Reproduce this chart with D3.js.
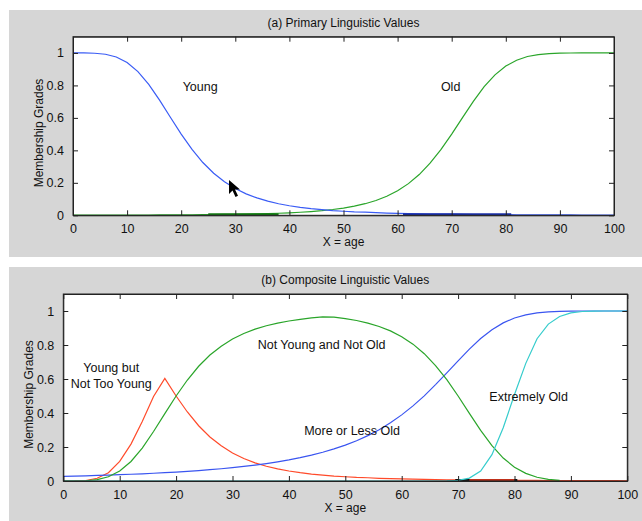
<!DOCTYPE html>
<html>
<head>
<meta charset="utf-8">
<script src="https://cdn.jsdelivr.net/npm/d3@7"></script>
<style>
  body { margin: 0; background: #fff; }
  text { font-family: "Liberation Sans", Arial, sans-serif; fill: #111; }
  .axis path, .axis line { stroke: #222; }
  .axis text { font-size: 12.5px; fill: #111; }
</style>
</head>
<body>
<div id="chart"></div>
<script>
// x grid used for every curve (age)
var ages = d3.range(0, 101, 2);

// (a) primary values
var young = [1, 0.9999, 0.998, 0.992, 0.975, 0.941, 0.885, 0.806, 0.709, 0.604,
  0.5, 0.406, 0.325, 0.259, 0.207, 0.165, 0.132, 0.107, 0.087, 0.071,
  0.059, 0.049, 0.041, 0.035, 0.029, 0.025, 0.021, 0.019, 0.016, 0.014,
  0.012, 0.011, 0.009, 0.008, 0.007, 0.007, 0.006, 0.005, 0.005, 0.004,
  0.004, 0.0035, 0.0032, 0.0029, 0.0026, 0.0024, 0.0022, 0.002, 0.0019, 0.0017, 0.0016];
var old = [0.0007, 0.0008, 0.0009, 0.001, 0.0012, 0.0014, 0.0016, 0.0018, 0.0021, 0.0024,
  0.0028, 0.0032, 0.0038, 0.0044, 0.0052, 0.0062, 0.0073, 0.0087, 0.0105, 0.0127,
  0.0154, 0.0188, 0.0231, 0.0286, 0.0356, 0.0446, 0.0563, 0.0714, 0.0913, 0.117,
  0.151, 0.195, 0.251, 0.321, 0.404, 0.5, 0.602, 0.702, 0.792, 0.865,
  0.919, 0.955, 0.978, 0.99, 0.996, 0.9986, 0.9996, 1, 1, 1, 1];

// (b) composite values
var butNotTooYoung = [0, 0.0002, 0.003, 0.016, 0.049, 0.115, 0.217, 0.35, 0.497, 0.604,
  0.5, 0.406, 0.325, 0.259, 0.207, 0.165, 0.132, 0.107, 0.087, 0.071,
  0.059, 0.049, 0.041, 0.035, 0.029, 0.025, 0.021, 0.019, 0.016, 0.014,
  0.012, 0.011, 0.009, 0.008, 0.007, 0.007, 0.006, 0.005, 0.005, 0.004,
  0.004, 0.0035, 0.0032, 0.0029, 0.0026, 0.0024, 0.0022, 0.002, 0.0019, 0.0017, 0.0016];
var notYoungNotOld = [0, 0.0001, 0.0016, 0.008, 0.025, 0.059, 0.115, 0.194, 0.291, 0.396,
  0.5, 0.594, 0.675, 0.741, 0.793, 0.835, 0.868, 0.893, 0.913, 0.929,
  0.941, 0.951, 0.959, 0.9655, 0.964, 0.955, 0.944, 0.929, 0.909, 0.883,
  0.849, 0.805, 0.749, 0.679, 0.596, 0.5, 0.398, 0.298, 0.208, 0.135,
  0.081, 0.045, 0.022, 0.01, 0.004, null, null, null, null, null, null];
var moreOrLessOld = [0.027, 0.0286, 0.0305, 0.0326, 0.0346, 0.037, 0.0396, 0.0424, 0.0455, 0.0489,
  0.0526, 0.0568, 0.0614, 0.0665, 0.0721, 0.0785, 0.0856, 0.0935, 0.1025, 0.1127,
  0.124, 0.137, 0.152, 0.169, 0.189, 0.211, 0.237, 0.267, 0.302, 0.342,
  0.389, 0.442, 0.501, 0.567, 0.636, 0.707, 0.776, 0.838, 0.89, 0.93,
  0.959, 0.977, 0.989, 0.995, 0.998, 0.9993, 1, 1, 1, 1, 1];
var extremelyOld = [0, 0, 0, 0, 0, 0, 0, 0, 0, 0,
  0, 0, 0, 0, 0, 0, 0, 0, 0, 0,
  0, 0, 0, 0, 0, 0, 0, 0, 0, 0,
  0, 0, 0, 0.0001, 0.0007, 0.0039, 0.0171, 0.059, 0.155, 0.313,
  0.509, 0.692, 0.837, 0.923, 0.968, 0.989, 0.997, 0.9995, 1, 1, 1];

var xTicks = d3.range(0, 101, 10);
var yTicks = [0, 0.2, 0.4, 0.6, 0.8, 1];

var svg = d3.select("#chart").append("svg")
  .attr("width", 642)
  .attr("height", 521);

// draw one MATLAB style panel, returns scales and plot group
function panel(box, plot, title) {
  svg.append("rect")
    .attr("x", box.x).attr("y", box.y)
    .attr("width", box.w).attr("height", box.h)
    .attr("fill", "#d6d6d6");

  var x = d3.scaleLinear().domain([0, 100]).range([plot.left, plot.right]);
  var y = d3.scaleLinear().domain([0, 1.1]).range([plot.bottom, plot.top]);

  svg.append("rect")
    .attr("x", plot.left).attr("y", plot.top)
    .attr("width", plot.right - plot.left)
    .attr("height", plot.bottom - plot.top)
    .attr("fill", "#fff");

  var g = svg.append("g");

  var fmt = function(d) { return (d === 0 || d === 1) ? String(d) : d3.format(".1f")(d); };

  svg.append("g").attr("class", "axis")
    .attr("transform", `translate(0,${plot.bottom})`)
    .call(d3.axisBottom(x).tickValues(xTicks).tickSizeInner(-5).tickSizeOuter(0).tickPadding(9));
  svg.append("g").attr("class", "axis")
    .attr("transform", `translate(0,${plot.top})`)
    .call(d3.axisTop(x).tickValues(xTicks).tickSizeInner(-5).tickSizeOuter(0).tickFormat(""));
  svg.append("g").attr("class", "axis")
    .attr("transform", `translate(${plot.left},0)`)
    .call(d3.axisLeft(y).tickValues(yTicks).tickSizeInner(-5).tickSizeOuter(0).tickPadding(9).tickFormat(fmt));
  svg.append("g").attr("class", "axis")
    .attr("transform", `translate(${plot.right},0)`)
    .call(d3.axisRight(y).tickValues(yTicks).tickSizeInner(-5).tickSizeOuter(0).tickFormat(""));

  // box edges
  svg.append("rect")
    .attr("x", plot.left).attr("y", plot.top)
    .attr("width", plot.right - plot.left)
    .attr("height", plot.bottom - plot.top)
    .attr("fill", "none").attr("stroke", "#222");

  svg.append("text")
    .attr("x", (plot.left + plot.right) / 2).attr("y", box.y + 17)
    .attr("text-anchor", "middle").attr("font-size", "12px")
    .text(title);
  svg.append("text")
    .attr("x", (plot.left + plot.right) / 2).attr("y", plot.bottom + 31)
    .attr("text-anchor", "middle").attr("font-size", "12px")
    .text("X = age");
  svg.append("text")
    .attr("transform", `translate(${plot.left - 30},${(plot.top + plot.bottom) / 2 + 7}) rotate(-90)`)
    .attr("text-anchor", "middle").attr("font-size", "12px")
    .text("Membership Grades");

  return { x: x, y: y, g: g };
}

function curve(p, values, color, width) {
  var line = d3.line()
    .defined(d => d[1] !== null)
    .x(d => p.x(d[0]))
    .y(d => p.y(d[1]));
  p.g.append("path")
    .datum(ages.map((a, i) => [a, values[i]]))
    .attr("d", line)
    .attr("fill", "none")
    .attr("stroke", color)
    .attr("stroke-width", width || 1.2);
}

function baseSeg(p, from, to, color) {
  p.g.append("line")
    .attr("x1", p.x(from)).attr("x2", p.x(to))
    .attr("y1", p.y(0) - 1).attr("y2", p.y(0) - 1)
    .attr("stroke", color).attr("stroke-width", 2);
}

function label(p, ax, ay, lines) {
  var t = p.g.append("text")
    .attr("text-anchor", "middle").attr("font-size", "12.5px");
  lines.forEach(function(s, i) {
    t.append("tspan").attr("x", p.x(ax)).attr("y", p.y(ay) + i * 16).text(s);
  });
}

// (a)
var pa = panel({ x: 9, y: 10, w: 633, h: 247 },
  { left: 73, right: 614, top: 36.7, bottom: 215.3 },
  "(a) Primary Linguistic Values");
curve(pa, old, "#2aa52a");
curve(pa, young, "#3a5cf5");
baseSeg(pa, 25, 38, "#157a15");
baseSeg(pa, 61, 81, "#1a2fa8");
label(pa, 23.5, 0.765, ["Young"]);
label(pa, 69.8, 0.765, ["Old"]);

// mouse pointer left in the screenshot
pa.g.append("path")
  .attr("d", "M229,180 l0,14 l3.5,-3.5 l3,6.5 l2.5,-1.2 l-3,-6.3 l5,0 z")
  .attr("fill", "#000");

// (b)
var pb = panel({ x: 9, y: 267, w: 633, h: 254 },
  { left: 63.3, right: 627.3, top: 294, bottom: 481 },
  "(b) Composite Linguistic Values");
curve(pb, butNotTooYoung, "#ff4a2a");
curve(pb, moreOrLessOld, "#3a55f0");
curve(pb, notYoungNotOld, "#2aa52a");
baseSeg(pb, 69.5, 80.5, "#111");
baseSeg(pb, 72, 80, "#c0301a");
curve(pb, extremelyOld, "#35cccc");
label(pb, 8.5, 0.64, ["Young but", "Not Too Young"]);
label(pb, 45.8, 0.775, ["Not Young and Not Old"]);
label(pb, 51.2, 0.27, ["More or Less Old"]);
label(pb, 82.5, 0.47, ["Extremely Old"]);
</script>
</body>
</html>
